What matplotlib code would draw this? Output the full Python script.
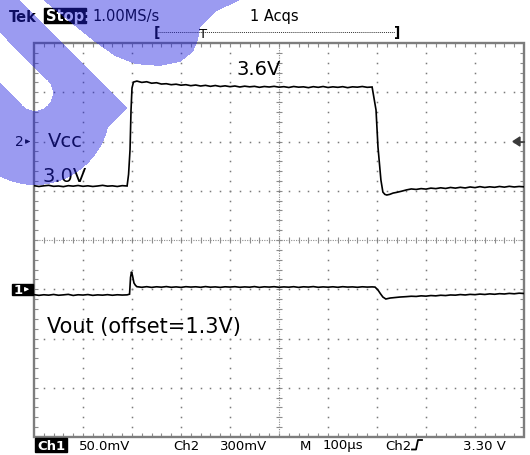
import numpy as np
import matplotlib
matplotlib.use("Agg")
import matplotlib.pyplot as plt
from matplotlib.patches import Rectangle, Polygon
from matplotlib.collections import LineCollection
from matplotlib.path import Path

# ---------------- data ----------------
time_per_div_us = 100
ch1_scale_v = 0.050
ch2_scale_v = 0.300
ch1_offset_v = 1.3
ch2_ref_v = 3.30
ch1_pos_div = -1
ch2_pos_div = 2

vcc_time_us = [0, 10, 20, 30, 40, 50, 60, 70, 80, 90, 100, 110, 120, 130, 140, 150, 160, 170, 180, 190,
               193, 196, 198, 200, 203,
               210, 220, 230, 240, 250, 260, 270, 280, 290, 300,
               310, 320, 330, 340, 350, 360, 370, 380, 390, 400,
               410, 420, 430, 440, 450, 460, 470, 480, 490, 500,
               510, 520, 530, 540, 550, 560, 570, 580, 590, 600,
               610, 620, 630, 640, 650, 660, 670, 680, 690,
               698, 702, 708, 712, 716, 720, 726, 733, 740,
               750, 760, 770, 780, 790, 800, 810, 820, 830, 840,
               850, 860, 870, 880, 890, 900, 910, 920, 930, 940,
               950, 960, 970, 980, 990, 1000]
vcc_volts = [3.031, 3.026, 3.030, 3.033, 3.027, 3.029, 3.025, 3.031, 3.028, 3.032,
             3.027, 3.030, 3.026, 3.029, 3.033, 3.028, 3.030, 3.026, 3.031, 3.029,
             3.10, 3.25, 3.49, 3.626, 3.662,
             3.668, 3.660, 3.664, 3.655, 3.658, 3.650, 3.652, 3.646, 3.649, 3.643,
             3.646, 3.640, 3.644, 3.638, 3.642, 3.636, 3.641, 3.635, 3.639, 3.634,
             3.638, 3.632, 3.637, 3.633, 3.636, 3.630, 3.635, 3.632, 3.636, 3.631,
             3.634, 3.629, 3.635, 3.631, 3.633, 3.628, 3.634, 3.630, 3.635, 3.629,
             3.633, 3.630, 3.634, 3.628, 3.633, 3.631, 3.635, 3.630, 3.632,
             3.492, 3.266, 3.065, 2.992, 2.978, 2.974, 2.978, 2.986, 2.990,
             2.997, 3.005, 3.011, 3.008, 3.013, 3.010, 3.016, 3.013, 3.018, 3.014,
             3.020, 3.016, 3.021, 3.017, 3.023, 3.019, 3.025, 3.020, 3.024, 3.021,
             3.026, 3.022, 3.027, 3.023, 3.026, 3.024]

vout_time_us = [0, 10, 20, 30, 40, 50, 60, 70, 80, 90, 100, 110, 120, 130, 140, 150, 160, 170, 180, 190,
                195, 197, 199, 201, 204, 207, 210,
                220, 230, 240, 250, 260, 270, 280, 290, 300, 310,
                320, 330, 340, 350, 360, 370, 380, 390, 400, 410,
                420, 430, 440, 450, 460, 470, 480, 490, 500, 510,
                520, 530, 540, 550, 560, 570, 580, 590, 600, 610,
                620, 630, 640, 650, 660, 670, 680, 690,
                696, 702, 707, 712, 718, 727, 737, 747,
                760, 770, 780, 790, 800, 810, 820, 830, 840, 850,
                860, 870, 880, 890, 900, 910, 920, 930, 940, 950,
                960, 970, 980, 990, 1000]
vout_volts = [1.2945, 1.2938, 1.2944, 1.2940, 1.2947, 1.2939, 1.2943, 1.2948, 1.2937, 1.2944,
              1.2941, 1.2946, 1.2938, 1.2943, 1.2940, 1.2945, 1.2939, 1.2944, 1.2941, 1.2943,
              1.2950, 1.3120, 1.3178, 1.3140, 1.3064, 1.3040, 1.3026,
              1.3020, 1.3026, 1.3019, 1.3025, 1.3021, 1.3027, 1.3020, 1.3024, 1.3019, 1.3026,
              1.3022, 1.3025, 1.3020, 1.3027, 1.3021, 1.3024, 1.3019, 1.3025, 1.3022, 1.3026,
              1.3020, 1.3024, 1.3021, 1.3027, 1.3019, 1.3025, 1.3022, 1.3026, 1.3020, 1.3024,
              1.3021, 1.3026, 1.3019, 1.3025, 1.3022, 1.3027, 1.3020, 1.3024, 1.3021, 1.3025,
              1.3020, 1.3026, 1.3022, 1.3024, 1.3020, 1.3025, 1.3022, 1.3024,
              1.3022, 1.2992, 1.2955, 1.2921, 1.2901, 1.2911, 1.2916, 1.2921,
              1.2925, 1.2929, 1.2927, 1.2933, 1.2930, 1.2936, 1.2933, 1.2939, 1.2936, 1.2942,
              1.2940, 1.2946, 1.2942, 1.2948, 1.2945, 1.2951, 1.2947, 1.2953, 1.2949, 1.2955,
              1.2952, 1.2958, 1.2954, 1.2960, 1.2957]

header_labels = ["Tek", "Stop:", "1.00MS/s", "1 Acqs"]
footer_labels = ["Ch1", "50.0mV", "Ch2", "300mV", "M", "100µs", "Ch2", "3.30 V"]
annotations = ["3.6V", "Vcc", "3.0V", "Vout (offset=1.3V)"]

# ---------------- figure ----------------
W, H = 530, 455
fig = plt.figure(figsize=(W / 100, H / 100), dpi=100)
fig.patch.set_facecolor("white")

# scope graticule axes (x in µs, y in divisions)
L, R, T, B = 34, 524, 43, 437
ax = fig.add_axes([L / W, 1 - B / H, (R - L) / W, (B - T) / H])
ax.set_xlim(0, 10 * time_per_div_us)
ax.set_ylim(-4, 4)
ax.axis("off")
ax.patch.set_alpha(0)
ax.set_zorder(2)

px_x = (10 * time_per_div_us) / (R - L)   # µs per pixel
px_y = 8.0 / (B - T)                       # div per pixel
gcol = "#8c8c8c"

# border
ax.add_patch(Rectangle((0, -4), 1000, 8, fill=False, ec="#7d7d7d", lw=1.7,
                       clip_on=False, zorder=3))
# border minor ticks
segs = []
for k in range(1, 50):
    x = k * 20
    segs.append([(x, 4), (x, 4 - 4 * px_y)])
    segs.append([(x, -4), (x, -4 + 4 * px_y)])
for k in range(1, 40):
    y = -4 + k * 0.2
    segs.append([(0, y), (4 * px_x, y)])
    segs.append([(1000, y), (1000 - 4 * px_x, y)])
# centre line cross ticks
for k in range(1, 50):
    x = k * 20
    segs.append([(x, -3 * px_y), (x, 3 * px_y)])
for k in range(1, 40):
    y = -4 + k * 0.2
    segs.append([(500 - 3 * px_x, y), (500 + 3 * px_x, y)])
ax.add_collection(LineCollection(segs, colors=gcol, linewidths=0.8, zorder=2))
# centre lines (dense dots)
ax.plot([0, 1000], [0, 0], color=gcol, lw=0.8, ls=(0, (1, 1.2)), zorder=2)
ax.plot([500, 500], [-4, 4], color=gcol, lw=0.8, ls=(0, (1, 1.2)), zorder=2)
# dotted major grid
dx, dy = [], []
for gx in [100, 200, 300, 400, 600, 700, 800, 900]:
    for k in range(1, 40):
        dx.append(gx); dy.append(-4 + k * 0.2)
for gy in [-3, -2, -1, 1, 2, 3]:
    for k in range(1, 50):
        dx.append(k * 20); dy.append(gy)
ax.plot(dx, dy, ls="none", marker="s", ms=1.1, mew=0, color="#7a7a7a", zorder=2)

# traces
vcc_div = [(v - ch2_ref_v) / ch2_scale_v + ch2_pos_div for v in vcc_volts]
vout_div = [(v - ch1_offset_v) / ch1_scale_v + ch1_pos_div for v in vout_volts]
ax.plot(vcc_time_us, vcc_div, color="black", lw=1.2, zorder=4, solid_joinstyle="miter")
ax.plot(vout_time_us, vout_div, color="black", lw=1.2, zorder=4, solid_joinstyle="miter")

# ---------------- text / markers in pixel coordinates ----------------
fg = fig.add_axes([0, 0, 1, 1])
fg.set_xlim(0, W)
fg.set_ylim(H, 0)
fg.axis("off")
fg.patch.set_alpha(0)
fg.set_zorder(5)

hf = dict(family="DejaVu Sans", fontsize=10.5, color="black", va="baseline")
fg.text(9, 21.5, header_labels[0], fontweight="bold", **hf)
fg.add_patch(Rectangle((44, 8), 42, 15, color="black"))
fg.text(46, 21.5, header_labels[1], fontweight="bold", family="DejaVu Sans",
        fontsize=10.5, color="white", va="baseline")
fg.text(92, 21.5, header_labels[2], **hf)
fg.text(250, 21.5, header_labels[3], **hf)
# record bar
fg.text(154, 37, "[", family="DejaVu Sans", fontsize=10, va="baseline", fontweight="bold")
fg.text(394, 37, "]", family="DejaVu Sans", fontsize=10, va="baseline", fontweight="bold")
fg.plot([158, 395], [32, 32], color="#333333", lw=0.7, ls=(0, (1, 1)))
fg.text(203, 38, "T", family="DejaVu Sans", fontsize=9.5, va="baseline", ha="center")

# channel reference markers
y2 = T + (4 - ch2_pos_div) / px_y
fg.text(15, y2 + 5, "2", family="DejaVu Sans", fontsize=10, va="baseline")
fg.annotate("", xy=(33, y2), xytext=(25, y2),
            arrowprops=dict(arrowstyle="-|>", color="black", lw=0.8, mutation_scale=6))
y1 = T + (4 - ch1_pos_div) / px_y
fg.add_patch(Rectangle((12, y1 - 5.5), 21, 11, color="black"))
fg.text(14, y1 + 4.5, "1", family="DejaVu Sans", fontsize=9.5, color="white",
        va="baseline", fontweight="bold")
fg.annotate("", xy=(32, y1), xytext=(22, y1),
            arrowprops=dict(arrowstyle="-|>", color="white", lw=0.8, mutation_scale=6))
# trigger level arrow
fg.add_patch(Polygon([(513, y2), (520, y2 - 4.5), (520, y2 + 4.5)], closed=True,
                     color="#3a3a3a"))
fg.plot([519, 524], [y2, y2], color="#3a3a3a", lw=1.2)

# annotations
af = dict(family="DejaVu Sans", color="black", va="baseline")
fg.text(236, 75, annotations[0], fontsize=14, **af)
fg.text(48, 147, annotations[1], fontsize=14, **af)
fg.text(43, 182, annotations[2], fontsize=14, **af)
fg.text(47, 333, annotations[3], fontsize=15, **af)

# footer
ff = dict(family="DejaVu Sans", fontsize=9.5, color="black", va="baseline")
fg.add_patch(Rectangle((35, 438), 32, 14, color="black"))
fg.text(37, 449.5, footer_labels[0], fontweight="bold", family="DejaVu Sans",
        fontsize=9.5, color="white", va="baseline")
fg.text(79, 449.5, footer_labels[1], **ff)
fg.text(173, 449.5, footer_labels[2], **ff)
fg.text(220, 449.5, footer_labels[3], **ff)
fg.text(300, 449.5, footer_labels[4], **ff)
fg.text(323, 449.5, footer_labels[5], **ff)
fg.text(385, 449.5, footer_labels[6], **ff)
fg.plot([412, 416, 418, 422], [449.5, 449.5, 440, 440], color="black", lw=1.3)
fg.text(463, 449.5, footer_labels[7], **ff)

# ---------------- translucent watermark on top ----------------
wm = fig.add_axes([0, 0, 1, 1])
wm.set_xlim(0, W)
wm.set_ylim(H, 0)
wm.axis("off")
wm.patch.set_alpha(0)
wm.set_zorder(10)
X, Y = np.meshgrid(np.arange(W) + 0.5, np.arange(H) + 0.5)
stripe = (Y > X - 20) & (Y < X + 33) & (X + Y < 236)
ring = (((X - 35) ** 2 + (Y - 110) ** 2) < 75 ** 2) & (Y > X - 20)
tongue = (((Y > X + 33) & (Y < X + 83) & (X + Y < 128)) |
          (((X - 35) ** 2 + (Y - 93) ** 2) < 17.7 ** 2))
blob_poly = Path([(43, -5), (43, 0), (70, 22), (95, 42), (115, 56), (135, 64), (160, 66),
                  (180, 62), (193, 52), (198, 40), (200, 28), (215, 12), (240, 0), (240, -5)])
blob = blob_poly.contains_points(np.c_[X.ravel(), Y.ravel()]).reshape(X.shape)
mask = stripe | (ring & ~tongue) | blob
img = np.zeros((H, W, 4))
img[..., 0] = 0.13
img[..., 1] = 0.13
img[..., 2] = 0.88
img[..., 3] = np.where(mask, 0.45, 0.0)
wm.imshow(img, extent=(0, W, H, 0), interpolation="nearest", aspect="auto")

fig.savefig("out.png", dpi=100, facecolor="white")
